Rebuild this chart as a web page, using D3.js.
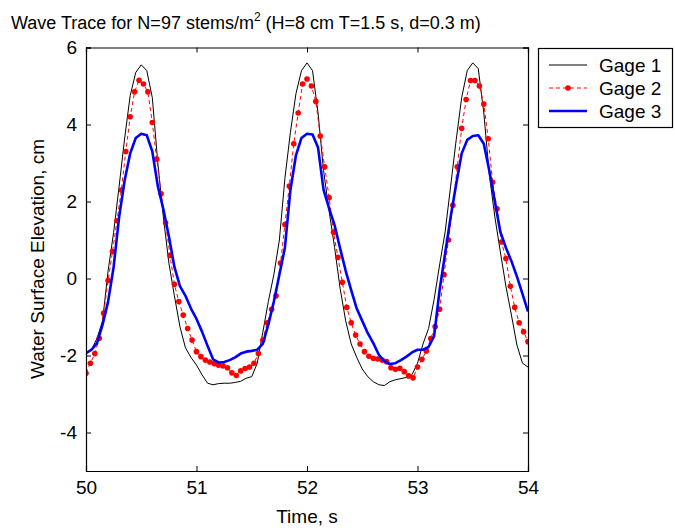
<!DOCTYPE html>
<html>
<head>
<meta charset="utf-8">
<script src="https://cdn.jsdelivr.net/npm/d3@7"></script>
<style>
  html, body { margin: 0; padding: 0; background: #fff; }
  svg { display: block; font-family: "Liberation Sans", Arial, sans-serif; }
</style>
</head>
<body>
<svg id="chart" width="675" height="531"></svg>
<script>
// ---------- data ----------
const xTicks = [50, 51, 52, 53, 54];
const yTicks = [-4, -2, 0, 2, 4, 6];
const seriesNames = ["Gage 1", "Gage 2", "Gage 3"];

// Gage 1 and Gage 3 sampled every 0.05 s from t = 50.00 to 54.00
const gage1Start = 50.0, gage1Step = 0.05;
const gage1 = [
  -1.95, -1.85, -1.55, -1.10, 0.20, 1.20, 2.40, 3.65, 4.75, 5.35,
   5.55, 5.40, 4.70, 3.00, 1.60, 0.40, -0.45, -1.25, -1.80, -2.05,
  -2.25, -2.50, -2.72, -2.76, -2.73, -2.72, -2.72, -2.70, -2.67, -2.59,
  -2.55, -2.20, -1.40, -0.60, 0.10, 1.00, 2.60, 3.80, 4.80, 5.40,
   5.60, 5.40, 4.30, 2.80, 1.75, 0.80, -0.26, -1.10, -1.70, -2.05,
  -2.35, -2.55, -2.68, -2.76, -2.78, -2.68, -2.63, -2.60, -2.57, -2.50,
  -2.20, -1.70, -1.30, -0.55, 0.35, 1.21, 2.40, 3.60, 4.70, 5.40,
   5.60, 5.45, 4.30, 2.70, 1.60, 0.69, -0.20, -0.95, -1.73, -2.20,
  -2.30
];

const gage3Start = 50.0, gage3Step = 0.05;
const gage3 = [
  -1.94, -1.85, -1.68, -1.20, -0.60, 0.30, 1.60, 2.55, 3.25, 3.65,
   3.76, 3.72, 3.30, 2.40, 1.80, 1.10, 0.30, -0.20, -0.45, -0.78,
  -1.05, -1.38, -1.75, -2.10, -2.18, -2.17, -2.12, -2.05, -1.95, -1.90,
  -1.88, -1.85, -1.70, -1.20, -0.60, 0.10, 0.80, 2.30, 3.20, 3.65,
   3.76, 3.74, 3.40, 2.30, 1.82, 1.38, 0.78, 0.20, -0.30, -0.78,
  -1.10, -1.42, -1.68, -1.98, -2.15, -2.22, -2.20, -2.12, -2.03, -1.92,
  -1.85, -1.85, -1.78, -1.50, -0.30, 0.65, 1.60, 2.45, 3.25, 3.60,
   3.70, 3.72, 3.50, 2.80, 2.00, 1.21, 0.80, 0.45, 0.05, -0.40,
  -0.86
];

// Gage 2 sampled every 0.04 s from t = 50.00 to 54.00
const gage2Start = 50.0, gage2Step = 0.04;
const gage2 = [
  -2.46, -2.20, -1.95, -1.55, -0.90, -0.05, 0.70, 1.50, 2.30, 3.30,
   4.20, 4.85, 5.15, 5.05, 4.85, 4.05, 3.10, 2.20, 1.45, 0.60,
  -0.15, -0.60, -0.95, -1.30, -1.60, -1.90, -2.03, -2.12, -2.17, -2.21,
  -2.25, -2.27, -2.32, -2.45, -2.52, -2.40, -2.34, -2.30, -2.20, -1.95,
  -1.60, -1.15, -0.80, -0.45, 0.40, 1.40, 2.40, 3.50, 4.30, 5.05,
   5.18, 5.00, 4.60, 3.70, 2.90, 2.10, 1.20, 0.55, -0.10, -0.75,
  -1.15, -1.47, -1.70, -1.90, -2.02, -2.07, -2.09, -2.12, -2.16, -2.32,
  -2.36, -2.33, -2.42, -2.53, -2.58, -2.30, -2.10, -1.88, -1.56, -1.25,
  -0.80, 0.10, 1.00, 1.90, 2.90, 3.90, 4.65, 5.14, 5.14, 5.00,
   4.53, 3.63, 2.50, 1.81, 0.95, 0.52, -0.20, -0.75, -1.15, -1.38,
  -1.64
];

const toPoints = (vals, start, step) => vals.map((v, i) => ({ t: start + i * step, v }));

// ---------- layout ----------
const svg = d3.select("#chart");
const x = d3.scaleLinear().domain([50, 54]).range([86, 528]);
const y = d3.scaleLinear().domain([-5, 6]).range([471, 47.5]);

const plot = svg.append("g");

svg.append("defs").append("clipPath").attr("id", "clip")
  .append("rect").attr("x", 86).attr("y", 47.5).attr("width", 442).attr("height", 423.5);

const line = d3.line().x(d => x(d.t)).y(d => y(d.v));
const lines = plot.append("g").attr("clip-path", "url(#clip)");

const p1 = toPoints(gage1, gage1Start, gage1Step);
const p2 = toPoints(gage2, gage2Start, gage2Step);
const p3 = toPoints(gage3, gage3Start, gage3Step);

lines.append("path").datum(p1).attr("d", line)
  .attr("fill", "none").attr("stroke", "#000").attr("stroke-width", 1);

lines.append("path").datum(p2).attr("d", line)
  .attr("fill", "none").attr("stroke", "#ff0000").attr("stroke-width", 1)
  .attr("stroke-dasharray", "4,3");
lines.selectAll("circle.g2").data(p2).enter().append("circle")
  .attr("class", "g2")
  .attr("cx", d => x(d.t)).attr("cy", d => y(d.v)).attr("r", 2.8)
  .attr("fill", "#ff0000");

lines.append("path").datum(p3).attr("d", line)
  .attr("fill", "none").attr("stroke", "#0000ff").attr("stroke-width", 2.6)
  .attr("stroke-linejoin", "round");

// axes (MATLAB-style box with inward ticks)
const fontSize = 19;
const fmt = d => String(d);
const axB = plot.append("g").attr("transform", "translate(0,471)")
  .call(d3.axisBottom(x).tickValues(xTicks).tickSize(-5).tickPadding(10).tickFormat(fmt));
const axT = plot.append("g").attr("transform", "translate(0,47.5)")
  .call(d3.axisTop(x).tickValues(xTicks).tickSize(-5).tickFormat(""));
const axL = plot.append("g").attr("transform", "translate(86,0)")
  .call(d3.axisLeft(y).tickValues(yTicks).tickSize(-5).tickPadding(9).tickFormat(fmt));
const axR = plot.append("g").attr("transform", "translate(528,0)")
  .call(d3.axisRight(y).tickValues(yTicks).tickSize(-5).tickFormat(""));

[axB, axT, axL, axR].forEach(a => {
  a.select(".domain").attr("stroke", "#000").attr("stroke-width", 1.2);
  a.selectAll(".tick line").attr("stroke", "#000");
  a.selectAll(".tick text").attr("font-size", fontSize).attr("font-family", "Liberation Sans, Arial, sans-serif").attr("fill", "#000");
});
axB.selectAll(".tick text").attr("dy", "0.71em");

// title
const title = svg.append("text").attr("x", 11).attr("y", 29)
  .attr("font-size", 18).attr("fill", "#000");
title.append("tspan").text("Wave Trace for N=97 stems/m");
title.append("tspan").attr("font-size", 12).attr("dy", -8).text("2");
title.append("tspan").attr("dy", 8).text(" (H=8 cm T=1.5 s, d=0.3 m)");

// axis labels
svg.append("text").attr("x", 307).attr("y", 523).attr("text-anchor", "middle")
  .attr("font-size", 19).attr("fill", "#000").text("Time, s");
svg.append("text").attr("transform", "translate(44,259) rotate(-90)")
  .attr("text-anchor", "middle").attr("font-size", 19).attr("fill", "#000")
  .text("Water Surface Elevation, cm");

// legend
const lg = svg.append("g");
lg.append("rect").attr("x", 538.5).attr("y", 48.5).attr("width", 134).attr("height", 79)
  .attr("fill", "#fff").attr("stroke", "#000").attr("stroke-width", 1.2);
const legendStyles = [
  { color: "#000", width: 1, dash: null, dot: false },
  { color: "#ff0000", width: 1, dash: "4,3", dot: true },
  { color: "#0000ff", width: 2.6, dash: null, dot: false }
];
seriesNames.forEach((name, i) => {
  const yy = 65 + i * 23;
  const s = legendStyles[i];
  lg.append("line").attr("x1", 549).attr("x2", 587).attr("y1", yy).attr("y2", yy)
    .attr("stroke", s.color).attr("stroke-width", s.width)
    .attr("stroke-dasharray", s.dash);
  if (s.dot) lg.append("circle").attr("cx", 568).attr("cy", yy).attr("r", 2.8).attr("fill", s.color);
  lg.append("text").attr("x", 599).attr("y", yy + 7).attr("font-size", 19)
    .attr("fill", "#000").text(name);
});
</script>
</body>
</html>
